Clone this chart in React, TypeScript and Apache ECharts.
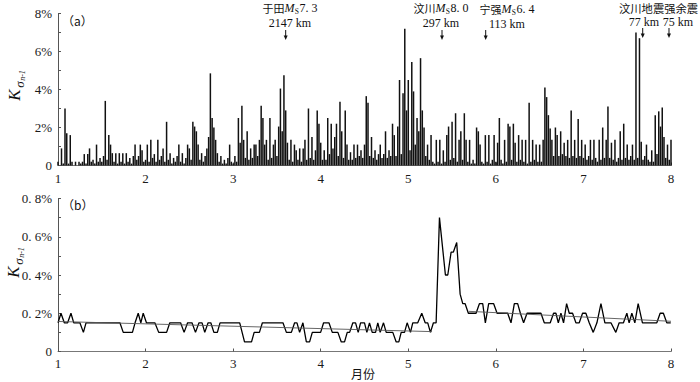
import React, { useEffect, useRef } from 'react';
import * as echarts from 'echarts';

// ---------- data ----------
const monthTicks = [1, 2, 3, 4, 5, 6, 7, 8];

// (a) K values (%), sampled every 0.02 month starting at month 1
const topStart = 1;
const topStep = 0.02;
const topValues = [
  0.2, 0, 0.9, 0.1, 3.0, 1.7, 0.1, 1.6, 0.2, 0, 0.2, 0, 0.2, 0.1, 0.2, 0.6, 0.1, 0.6, 0.9, 0.2, 0.3, 0.1, 1.1, 0.2, 0.4,
  0.2, 0.5, 3.4, 0.3, 1.6, 1.1, 0.65, 0.2, 0.65, 0.1, 0.65, 0.2, 0.65, 0.1, 0.65, 0.2, 0.4, 0.1, 0.5, 1.1, 0.3, 0.5, 1.1, 0.8, 0.2,
  0.3, 1.1, 0.2, 1.35, 0.4, 0.6, 0.2, 1.35, 0.3, 0.5, 0.9, 0.2, 2.3, 0.3, 0.65, 0.1, 0.4, 0.2, 0.5, 1.1, 0.2, 0.65, 0.1, 0.4, 1.1,
  0.9, 0.3, 2.3, 2.05, 1.8, 1.1, 0.3, 0.65, 0.2, 0.5, 0.9, 1.5, 4.85, 2.5, 2.0, 1.35, 0.65, 0.2, 0.5, 0.1, 0.3, 0.1, 0.4, 1.1, 0.2,
  0.1, 0.5, 0.2, 2.5, 1.2, 3.15, 1.35, 0.4, 1.8, 0.3, 0.9, 0.4, 1.1, 1.1, 0.5, 1.35, 3.15, 2.5, 1.1, 1.35, 0.3, 2.5, 0.4, 1.1, 1.35,
  0.5, 2.05, 4.05, 1.8, 4.75, 2.9, 1.2, 0.3, 1.35, 0.2, 1.1, 0.8, 0.3, 0.9, 0.2, 0.9, 1.35, 0.3, 3.0, 0.4, 1.5, 0.3, 0.8, 2.9, 2.2,
  1.2, 0.3, 0.8, 0.3, 2.5, 0.6, 2.2, 0.9, 1.5, 2.2, 0.5, 3.35, 1.8, 0.4, 2.9, 1.1, 0.3, 0.7, 0.3, 1.1, 0.4, 1.1, 0.5, 0.8, 0.4,
  1.1, 3.65, 3.3, 0.5, 1.5, 0.4, 0.8, 0.3, 0.6, 1.1, 0.4, 0.6, 1.8, 0.4, 0.8, 0.5, 2.2, 1.6, 0.5, 2.05, 4.5, 0.6, 3.8, 7.2, 2.9,
  4.5, 0.8, 5.45, 3.9, 1.1, 2.5, 1.8, 5.65, 2.9, 2.0, 0.5, 1.1, 0.3, 1.6, 0.2, 0.1, 1.35, 0.2, 1.35, 0.1, 0.8, 0.2, 1.6, 2.05, 0.3,
  2.3, 0.4, 2.75, 0.2, 1.35, 1.8, 0.3, 2.75, 1.35, 0.2, 1.35, 0.1, 0.3, 0.1, 2.0, 1.8, 1.1, 0.2, 0.1, 1.6, 0.2, 1.6, 0.1, 0.3, 1.6,
  0.2, 1.2, 2.5, 0.3, 0.1, 1.35, 0.2, 2.2, 2.05, 0.3, 2.2, 1.2, 0.2, 1.6, 0.3, 1.35, 0.2, 1.35, 0.1, 3.3, 0.2, 1.35, 0.3, 1.1, 0.2,
  1.1, 0.2, 1.35, 4.1, 3.6, 2.65, 1.95, 1.35, 0.5, 2.0, 1.6, 0.5, 1.8, 0.6, 1.2, 0.5, 1.35, 0.4, 2.9, 0.5, 1.35, 0.4, 2.45, 0.5, 1.35,
  0.4, 1.1, 0.3, 0.5, 1.35, 0.3, 1.35, 0.4, 0.2, 1.35, 0.3, 2.0, 0.4, 1.35, 3.1, 0.4, 1.2, 0.3, 1.35, 0.2, 0.4, 1.8, 0.3, 2.2, 0.4,
  1.1, 0.3, 0.5, 1.1, 0.3, 7.0, 0.4, 6.7, 1.25, 0.3, 0.5, 1.1, 0.3, 0.2, 0.8, 0.2, 2.65, 0.6, 2.85, 2.05, 3.05, 1.5, 0.4, 1.1, 0.3,
  1.35,
];

// (b) smoothed K values (%)
const bottomMonths = [
  1.0, 1.034, 1.072, 1.11, 1.148, 1.18, 1.25, 1.29, 1.32, 1.707, 1.745, 1.85, 1.88, 1.916, 1.946, 1.973, 2.01, 2.106, 2.15, 2.24,
  2.277, 2.40, 2.44, 2.48, 2.53, 2.57, 2.61, 2.645, 2.676, 2.714, 2.745, 2.78, 2.82, 2.85, 3.075, 3.13, 3.21, 3.24, 3.30, 3.334,
  3.569, 3.608, 3.665, 3.702, 3.729, 3.759, 3.797, 3.836, 3.873, 3.904, 3.999, 4.033, 4.094, 4.132, 4.196, 4.235, 4.272, 4.303, 4.33, 4.367,
  4.398, 4.428, 4.455, 4.50, 4.527, 4.557, 4.588, 4.626, 4.652, 4.679, 4.717, 4.748, 4.823, 4.862, 4.892, 4.919, 4.957, 4.987, 5.025, 5.051,
  5.108, 5.154, 5.193, 5.222, 5.253, 5.287, 5.318, 5.356, 5.424, 5.451, 5.489, 5.515, 5.553, 5.592, 5.622, 5.649, 5.686, 5.774, 5.812, 5.85,
  5.88, 5.918, 5.975, 6.014, 6.135, 6.173, 6.211, 6.249, 6.28, 6.317, 6.356, 6.515, 6.553, 6.621, 6.659, 6.686, 6.713, 6.743, 6.773, 6.808,
  6.838, 6.876, 6.914, 6.952, 6.99, 7.028, 7.066, 7.112, 7.154, 7.20, 7.245, 7.314, 7.37, 7.408, 7.457, 7.496, 7.522, 7.553, 7.587, 7.625,
  7.674, 7.838, 7.876, 7.913, 7.952, 7.997,
];
const bottomValues = [
  0.15, 0.2, 0.15, 0.15, 0.2, 0.15, 0.15, 0.1, 0.15, 0.15, 0.1, 0.1, 0.15, 0.2, 0.15, 0.2, 0.15, 0.15, 0.1, 0.1,
  0.15, 0.15, 0.1, 0.15, 0.15, 0.1, 0.15, 0.15, 0.1, 0.15, 0.15, 0.1, 0.1, 0.15, 0.15, 0.05, 0.05, 0.1, 0.1, 0.15,
  0.15, 0.1, 0.1, 0.15, 0.15, 0.1, 0.15, 0.05, 0.05, 0.1, 0.1, 0.15, 0.15, 0.1, 0.1, 0.05, 0.05, 0.1, 0.1, 0.15,
  0.15, 0.1, 0.15, 0.15, 0.1, 0.15, 0.1, 0.1, 0.15, 0.1, 0.15, 0.1, 0.1, 0.05, 0.05, 0.1, 0.1, 0.15, 0.1, 0.15,
  0.15, 0.2, 0.15, 0.15, 0.1, 0.15, 0.15, 0.7, 0.4, 0.4, 0.52, 0.52, 0.57, 0.3, 0.25, 0.25, 0.2, 0.2, 0.25, 0.25,
  0.15, 0.25, 0.25, 0.2, 0.2, 0.15, 0.25, 0.25, 0.2, 0.15, 0.2, 0.2, 0.15, 0.15, 0.2, 0.2, 0.15, 0.2, 0.15, 0.25,
  0.2, 0.2, 0.15, 0.15, 0.2, 0.2, 0.15, 0.1, 0.15, 0.25, 0.15, 0.15, 0.1, 0.15, 0.15, 0.2, 0.15, 0.2, 0.15, 0.25,
  0.15, 0.15, 0.2, 0.2, 0.15, 0.15,
];
// linear trends (before / after the Wenchuan event)
const trendBeforeMonths = [1.0, 5.27];
const trendBeforeValues = [0.157, 0.104];
const trendAfterMonths = [5.69, 8.0];
const trendAfterValues = [0.21, 0.158];

// events marked on (a)
const eventNames = ['于田', '汶川', '宁强'];
const eventMags = ['7. 3', '8. 0', '6. 4'];
const eventDists = ['2147 km', '297 km', '113 km'];
const eventMonths = [3.6, 5.385, 5.884, 7.677, 7.977];

// ---------- layout ----------
const GL = 58;
const GW = 613;
const px = (m: number) => GL + ((m - 1) / 7) * GW;

const SERIF = '"Liberation Serif", "DejaVu Serif", serif';
const CJK = '"Noto Sans CJK SC", sans-serif';
const INK = '#111';

function txt(text: string, x: number, y: number, align: string, extra: any = {}) {
  return {
    type: 'text',
    x,
    y,
    silent: true,
    style: {
      text,
      fill: INK,
      fontFamily: SERIF,
      fontSize: 12.5,
      align,
      verticalAlign: 'middle',
      ...extra,
    },
  };
}

// "名称 M_S 震级" composed from pieces so that the S is a true subscript
function quakeLabel(cx: number, y: number, name: string, mag: string) {
  const wName = 22;
  const wM = 10.7;
  const wS = 4.2;
  const wMag = 18;
  const x0 = cx - (wName + wM + wS + wMag) / 2;
  return [
    txt(name, x0, y, 'left', { fontFamily: CJK, fontSize: 11 }),
    txt('M', x0 + wName, y, 'left', { fontStyle: 'italic', fontSize: 12 }),
    txt('S', x0 + wName + wM - 0.5, y + 3.5, 'left', { fontSize: 7.5 }),
    txt(mag, x0 + wName + wM + wS, y, 'left', { fontSize: 12 }),
  ];
}

function arrow(x: number, y0: number, y1: number) {
  return [
    { type: 'line', silent: true, shape: { x1: x, y1: y0, x2: x, y2: y1 - 3 }, style: { stroke: INK, lineWidth: 1 } },
    { type: 'polygon', silent: true, shape: { points: [[x - 2, y1 - 4.5], [x + 2, y1 - 4.5], [x, y1]] }, style: { fill: INK } },
  ];
}

function yName(x: number, y: number) {
  return {
    type: 'group',
    x,
    y,
    rotation: Math.PI / 2,
    silent: true,
    children: [
      { type: 'text', x: 0, y: 0, style: { text: 'K', fontFamily: SERIF, fontStyle: 'italic', fontSize: 17, fill: INK, align: 'center', verticalAlign: 'middle' } },
      { type: 'text', x: 10.5, y: 5, style: { text: 'σ', fontFamily: SERIF, fontStyle: 'italic', fontSize: 13, fill: INK, align: 'center', verticalAlign: 'middle' } },
      { type: 'text', x: 19.5, y: 8.5, style: { text: 'n-1', fontFamily: SERIF, fontStyle: 'italic', fontSize: 8, fill: INK, align: 'center', verticalAlign: 'middle' } },
    ],
  };
}

export default function App() {
  const ref = useRef<HTMLDivElement>(null);

  useEffect(() => {
    if (!ref.current) return;
    const chart = echarts.init(ref.current, undefined, { renderer: 'svg' });

    const topData = topValues.map((v, i) => [topStart + i * topStep, v]);
    const botData = bottomMonths.map((m, i) => [m, bottomValues[i]]);
    const tr1 = trendBeforeMonths.map((m, i) => [m, trendBeforeValues[i]]);
    const tr2 = trendAfterMonths.map((m, i) => [m, trendAfterValues[i]]);

    const xAxisBase = (gridIndex: number, margin: number) => ({
      type: 'value',
      gridIndex,
      min: monthTicks[0],
      max: monthTicks[monthTicks.length - 1],
      interval: 1,
      axisLine: { show: true, onZero: false, lineStyle: { color: '#777', width: 1 } },
      axisTick: { show: true, inside: true, length: 3, lineStyle: { color: '#555' } },
      axisLabel: { color: '#1a1a1a', fontFamily: SERIF, fontSize: 13, margin },
      splitLine: { show: false },
    });

    const yAxisBase = (gridIndex: number, max: number, interval: number, fmt: (v: number) => string) => ({
      type: 'value',
      gridIndex,
      min: 0,
      max,
      interval,
      axisLine: { show: true, lineStyle: { color: '#555', width: 1 } },
      axisTick: { show: true, inside: true, length: 3, lineStyle: { color: '#555' } },
      axisLabel: { color: '#1a1a1a', fontFamily: SERIF, fontSize: 13, margin: 6, formatter: fmt },
      splitLine: { show: false },
    });

    const labelX = [290, 441, 507];
    const labelY = [8, 8, 9];
    const graphic: any[] = [];
    for (let k = 0; k < 3; k++) {
      graphic.push(...quakeLabel(labelX[k], labelY[k], eventNames[k], eventMags[k]));
      graphic.push(txt(eventDists[k], labelX[k], labelY[k] + 14.5, 'center', { fontSize: 12 }));
    }
    graphic.push(
      txt('汶川地震强余震', 619, 8, 'left', { fontFamily: CJK, fontSize: 11.3 }),
      txt('77 km', 644, 21.5, 'center', { fontSize: 12 }),
      txt('75 km', 678, 21.5, 'center', { fontSize: 12 }),
      ...arrow(px(eventMonths[0]), 30, 40),
      ...arrow(px(eventMonths[1]), 30, 40),
      ...arrow(px(eventMonths[2]), 30, 40),
      ...arrow(px(eventMonths[3]), 28, 38),
      ...arrow(px(eventMonths[4]), 28, 38),
      txt('（a）', 62, 20, 'left', { fontFamily: CJK, fontSize: 12 }),
      txt('（b）', 62, 204, 'left', { fontFamily: CJK, fontSize: 12 }),
      txt('月份', 363, 373.5, 'center', { fontFamily: CJK, fontSize: 12 }),
      yName(14, 95),
      yName(13, 272),
    );

    chart.setOption({
      animation: false,
      backgroundColor: '#fff',
      grid: [
        { left: GL, top: 13.5, width: GW, height: 152, containLabel: false },
        { left: GL, top: 198.5, width: GW, height: 153, containLabel: false },
      ],
      xAxis: [xAxisBase(0, 6), xAxisBase(1, 5)],
      yAxis: [
        yAxisBase(0, 8, 1, (v: number) => (v === 0 ? '0' : Math.round(v) % 2 === 0 ? `${Math.round(v)}%` : '')),
        yAxisBase(1, 0.8, 0.1, (v: number) => {
          const k = Math.round(v * 10);
          if (k === 0) return '0';
          if (k % 2) return '';
          return `0. ${k}%`;
        }),
      ],
      series: [
        {
          type: 'bar',
          xAxisIndex: 0,
          yAxisIndex: 0,
          data: topData,
          barWidth: 1.5,
          itemStyle: { color: '#111' },
          silent: true,
        },
        {
          type: 'line',
          xAxisIndex: 1,
          yAxisIndex: 1,
          data: botData,
          showSymbol: false,
          symbol: 'none',
          lineStyle: { color: '#000', width: 1.3 },
          silent: true,
        },
        {
          type: 'line',
          xAxisIndex: 1,
          yAxisIndex: 1,
          data: tr1,
          showSymbol: false,
          symbol: 'none',
          lineStyle: { color: '#555', width: 0.9 },
          silent: true,
        },
        {
          type: 'line',
          xAxisIndex: 1,
          yAxisIndex: 1,
          data: tr2,
          showSymbol: false,
          symbol: 'none',
          lineStyle: { color: '#555', width: 0.9 },
          silent: true,
        },
      ],
      graphic,
    });

    return () => chart.dispose();
  }, []);

  return <div ref={ref} style={{ position: 'fixed', left: 0, top: 0, width: 700, height: 382 }} />;
}
